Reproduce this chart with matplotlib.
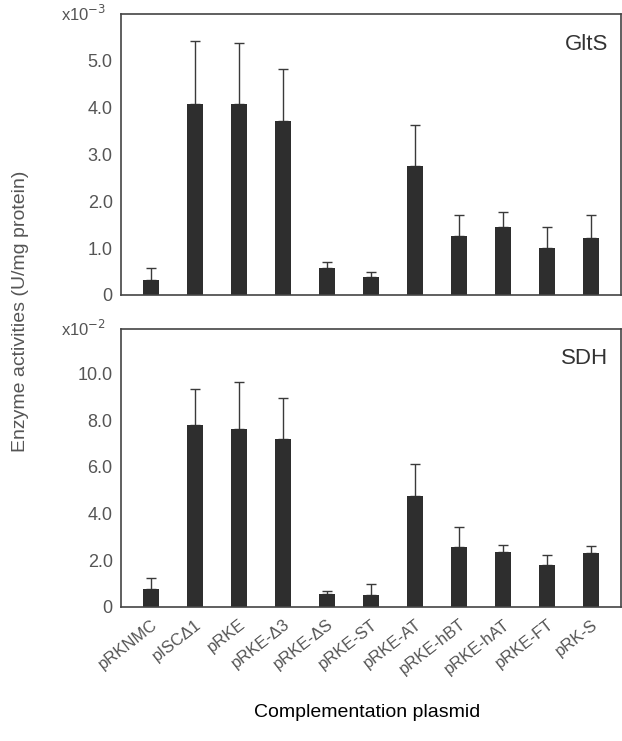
import matplotlib.pyplot as plt
import numpy as np

plt.rcParams['font.family'] = ['Liberation Sans', 'DejaVu Sans']

# plasmides de complémentation
plasmides = ['pRKNMC', 'pISCΔ1', 'pRKE', 'pRKE-Δ3', 'pRKE-ΔS', 'pRKE-ST',
             'pRKE-AT', 'pRKE-hBT', 'pRKE-hAT', 'pRKE-FT', 'pRK-S']

# GltS (x10-3 U/mg)
glts = [0.32, 4.08, 4.08, 3.72, 0.57, 0.39, 2.76, 1.25, 1.46, 1.00, 1.21]
glts_err = [0.25, 1.35, 1.30, 1.11, 0.13, 0.10, 0.87, 0.45, 0.31, 0.46, 0.50]

# SDH (x10-2 U/mg)
sdh = [0.77, 7.77, 7.63, 7.21, 0.57, 0.51, 4.74, 2.56, 2.34, 1.79, 2.31]
sdh_err = [0.47, 1.54, 2.01, 1.75, 0.10, 0.45, 1.39, 0.85, 0.32, 0.45, 0.29]

gris = '#555555'
fig = plt.figure(figsize=(6.22, 7.41), dpi=100)
ax1 = fig.add_axes([0.1945, 0.602, 0.804, 0.379])
ax2 = fig.add_axes([0.1945, 0.181, 0.804, 0.375])

x = np.arange(len(plasmides))
panneaux = [(ax1, glts, glts_err, 'GltS', 6.0, [0, 1, 2, 3, 4, 5], 'x10$^{-3}$'),
            (ax2, sdh, sdh_err, 'SDH', 11.9, [0, 2, 4, 6, 8, 10], 'x10$^{-2}$')]

for ax, val, err, nom, ymax, ticks, echelle in panneaux:
    ax.bar(x, val, width=0.35, color='#2e2e2e', zorder=2)
    ax.errorbar(x, val, yerr=[np.zeros(len(val)), err], fmt='none',
                ecolor='#3a3a3a', elinewidth=1.0, capsize=3.5, capthick=1.0, zorder=1)
    ax.set_xlim(-0.68, 10.68)
    ax.set_ylim(0, ymax)
    ax.set_yticks(ticks)
    ax.set_yticklabels(['0'] + ['%.1f' % t for t in ticks[1:]])
    ax.tick_params(axis='y', length=0, pad=6, labelsize=13, labelcolor=gris)
    ax.tick_params(axis='x', length=0)
    for s in ax.spines.values():
        s.set_color('#444444')
        s.set_linewidth(1.2)
    ax.text(0.975, 0.93, nom, transform=ax.transAxes, ha='right', va='top',
            fontsize=16, color='#333333')
    ax.text(-0.03, 1.0, echelle, transform=ax.transAxes, ha='right', va='center',
            fontsize=12, color=gris)

ax1.set_xticks(x)
ax1.set_xticklabels([])
ax2.set_xticks(x)
ax2.set_xticklabels(plasmides, rotation=38, ha='right', rotation_mode='anchor',
                    fontsize=12, color=gris)
ax2.tick_params(axis='x', pad=7)

fig.text(0.033, 0.58, 'Enzyme activities (U/mg protein)', rotation=90,
         ha='center', va='center', fontsize=14, color=gris)
fig.text(0.59, 0.038, 'Complementation plasmid', ha='center', va='center',
         fontsize=14, color='black')

plt.savefig('out.png', dpi=100)
